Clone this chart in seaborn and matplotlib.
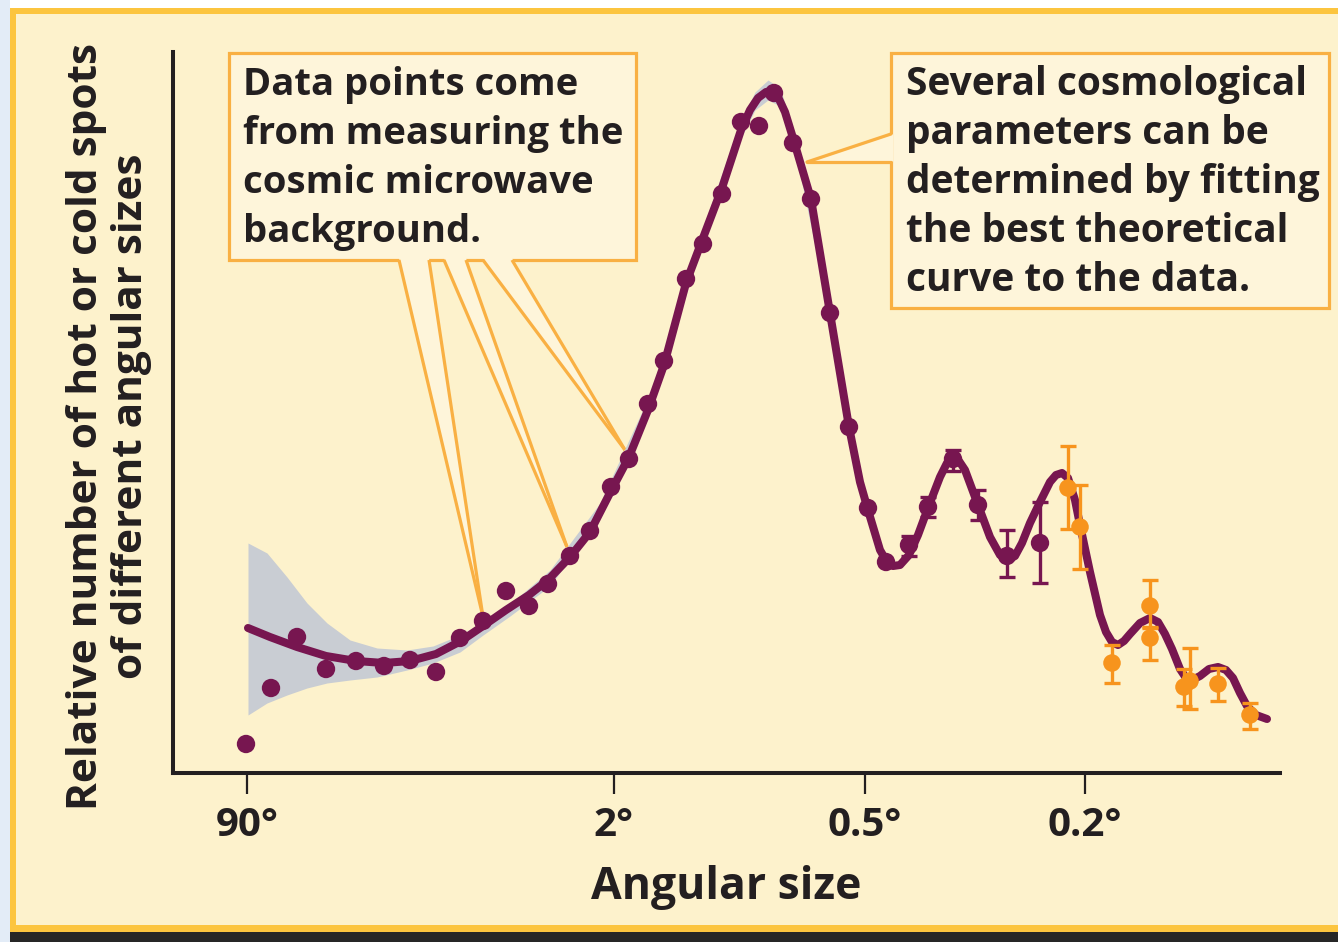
import numpy as np
import pandas as pd
import matplotlib
matplotlib.use("Agg")
import matplotlib.pyplot as plt
import seaborn as sns
from matplotlib.patches import Rectangle, Polygon

# ---------------- data (positions along the angular-size axis, relative heights) -------------
tick_pos = [247, 614, 865, 1085]
tick_labels = ["90°", "2°", "0.5°", "0.2°"]

# measured points without visible error bars
pts_x = [246, 271, 297, 326, 356, 384, 410, 436, 460, 483, 506, 529, 548, 570, 590, 611,
         629, 648, 664, 686, 703, 722, 741, 759, 774, 793, 811, 830, 849, 868, 886]
pts_y = [29, 85, 136, 104, 112, 107, 113, 101, 135, 152, 182, 167, 189, 217, 242, 286,
         314, 369, 412, 494, 529, 579, 651, 647, 680, 630, 574, 460, 346, 265, 211]

# measured points (purple) with error bars
perr_x = [909, 928, 953, 978, 1007, 1040]
perr_y = [228, 266, 314, 268, 217, 230]
perr_lo = [217, 256, 302, 253, 196, 190]
perr_hi = [237, 276, 323, 283, 243, 271]

# measured points (orange) with error bars
oerr_x = [1068, 1080, 1112, 1150, 1150, 1184, 1190, 1218, 1250]
oerr_y = [285, 246, 110, 167, 135, 86, 92, 89, 58]
oerr_lo = [244, 204, 90, 146, 113, 67, 64, 72, 44]
oerr_hi = [327, 288, 128, 193, 145, 104, 125, 105, 70]

# best-fit theoretical curve
curve_x = [248, 270, 297, 326, 356, 384, 410, 436, 461, 483, 506, 529, 548, 570, 590, 611,
           629, 648, 664, 686, 703, 722, 741, 750, 758, 766, 772, 778, 785, 793, 811, 830,
           849, 860, 868, 874, 880, 887, 893, 900, 909, 918, 928, 940, 947, 953, 959, 965,
           978, 990, 1000, 1008, 1015, 1022, 1030, 1040, 1050, 1056, 1062, 1068, 1075,
           1080, 1090, 1100, 1106, 1112, 1118, 1124, 1130, 1140, 1150, 1158, 1165, 1172,
           1180, 1186, 1192, 1200, 1209, 1218, 1226, 1233, 1240, 1247, 1256, 1267]
curve_y = [145, 136, 126, 117, 112, 110, 112, 119, 132, 147, 163, 178, 193, 216, 241, 282,
           316, 363, 408, 490, 535, 585, 643, 663, 675, 681, 681, 676, 661, 635, 574, 460,
           346, 291, 263, 243, 223, 211, 207, 208, 218, 238, 265, 296, 310, 315, 312, 303,
           268, 236, 218, 213, 217, 230, 250, 271, 291, 298, 300, 295, 273,
           248, 201, 158, 141, 131, 128, 132, 139, 150, 155, 151, 139, 124,
           104, 95, 93, 97, 104, 106, 103, 95, 80, 67, 58, 54]

# uncertainty band of the fit
band_x = [248, 267, 287, 307, 327, 350, 377, 407, 433, 460, 483, 510, 550, 600, 650, 700,
          740, 755, 768, 780, 795, 830, 860]
band_hi = [230, 220, 196, 170, 150, 133, 125, 123, 127, 138, 151, 169, 203, 270, 379, 537,
           651, 681, 693, 685, 639, 467, 297]
band_lo = [58, 70, 78, 85, 90, 93, 96, 103, 110, 121, 138, 157, 187, 255, 363, 523,
           633, 663, 673, 667, 623, 455, 285]

left_note = ["Data points come", "from measuring the", "cosmic microwave", "background."]
right_note = ["Several cosmological", "parameters can be", "determined by fitting",
              "the best theoretical", "curve to the data."]
ylabel_lines = ["Relative number of hot or cold spots", "of different angular sizes"]
xlabel = "Angular size"

# ---------------- style ----------------
PURPLE = "#771650"
ORANGE = "#f7941d"
LEAD = "#f9b043"
BAND = "#c9cdd3"
PANEL = "#fdf2cc"
BOXFACE = "#fef5da"
INK = "#231f20"

sns.set_theme(style="white")
plt.rcParams['font.family'] = ['Open Sans', 'DejaVu Sans']
plt.rcParams['font.weight'] = 'bold'

W, H = 1338, 942
fig = plt.figure(figsize=(W / 100, H / 100), dpi=100, facecolor="white")

# background / frame layer in pixel coordinates
bg = fig.add_axes([0, 0, 1, 1], zorder=0)
bg.set_xlim(0, W)
bg.set_ylim(H, 0)
bg.axis("off")
bg.add_patch(Rectangle((0, 0), 10, H, color="#e3ecf7", lw=0))
bg.add_patch(Rectangle((10, 8), W - 10, 924, color="#fcc53f", lw=0))
bg.add_patch(Rectangle((16, 14), W - 16, 911, color=PANEL, lw=0))
bg.add_patch(Rectangle((10, 932), W - 10, 10, color="#262626", lw=0))

# annotation boxes
bg.add_patch(Rectangle((229, 53), 407, 207, facecolor=BOXFACE, edgecolor=LEAD, lw=2.3))
bg.add_patch(Rectangle((891, 53), 438, 255, facecolor=BOXFACE, edgecolor=LEAD, lw=2.3))

left_leads = [((399, 429), (483, 617)), ((444, 466), (567, 547)), ((483, 512), (625, 450))]
for (xa, xb), tip in left_leads:
    bg.add_patch(Polygon([(xa, 258), (xb, 258), tip], closed=True, facecolor=BOXFACE, lw=0))
    bg.plot([xa, tip[0]], [260, tip[1]], color=LEAD, lw=2.3, solid_capstyle="butt")
    bg.plot([xb, tip[0]], [260, tip[1]], color=LEAD, lw=2.3, solid_capstyle="butt")

bg.add_patch(Polygon([(893, 134), (893, 162), (807, 162)], closed=True, facecolor=BOXFACE, lw=0))
bg.plot([891, 807], [134, 162], color=LEAD, lw=2.3)
bg.plot([891, 807], [162, 162], color=LEAD, lw=2.3)

for i, line in enumerate(left_note):
    bg.text(243, 95 + 49 * i, line, fontsize=27.5, fontweight="bold", color=INK, va="baseline", ha="left")
for i, line in enumerate(right_note):
    bg.text(906, 95 + 49 * i, line, fontsize=28, fontweight="bold", color=INK, va="baseline", ha="left")

bg.text(87, 426, ylabel_lines[0], rotation=90, fontsize=30.5, fontweight="bold", color=INK,
        ha="center", va="center")
bg.text(132, 416, ylabel_lines[1], rotation=90, fontsize=30.5, fontweight="bold", color=INK,
        ha="center", va="center")

# ---------------- main chart ----------------
L, R, T, B = 173, 1280, 52, 773
ax = fig.add_axes([L / W, (H - B) / H, (R - L) / W, (B - T) / H], zorder=1)
ax.patch.set_alpha(0)
ax.set_xlim(L, R)
ax.set_ylim(0, B - T)

ax.fill_between(band_x, band_lo, band_hi, color=BAND, lw=0, zorder=1)

curve = pd.DataFrame({"x": curve_x, "y": curve_y})
sns.lineplot(data=curve, x="x", y="y", ax=ax, color=PURPLE, lw=5.8, sort=False,
             estimator=None, zorder=2)
ax.lines[-1].set_solid_joinstyle("round")
ax.lines[-1].set_solid_capstyle("round")

ax.errorbar(perr_x, perr_y,
            yerr=[np.array(perr_y) - np.array(perr_lo), np.array(perr_hi) - np.array(perr_y)],
            fmt="none", ecolor=PURPLE, elinewidth=2.4, capsize=5.5, capthick=2.4, zorder=3)
ax.errorbar(oerr_x, oerr_y,
            yerr=[np.array(oerr_y) - np.array(oerr_lo), np.array(oerr_hi) - np.array(oerr_y)],
            fmt="none", ecolor=ORANGE, elinewidth=2.4, capsize=5.5, capthick=2.4, zorder=3)

purple_pts = pd.DataFrame({"x": pts_x + perr_x, "y": pts_y + perr_y})
sns.scatterplot(data=purple_pts, x="x", y="y", ax=ax, color=PURPLE, s=175, edgecolor="none",
                zorder=4, clip_on=False)
orange_pts = pd.DataFrame({"x": oerr_x, "y": oerr_y})
sns.scatterplot(data=orange_pts, x="x", y="y", ax=ax, color=ORANGE, s=160, edgecolor="none",
                zorder=4, clip_on=False)

for side in ["top", "right"]:
    ax.spines[side].set_visible(False)
for side in ["left", "bottom"]:
    ax.spines[side].set_color(INK)
    ax.spines[side].set_linewidth(2.9)
ax.set_yticks([])
ax.set_xticks(tick_pos)
ax.set_xticklabels(tick_labels, fontsize=29, fontweight="bold", color=INK)
ax.tick_params(axis="x", direction="out", length=15, width=1.6, color=INK, pad=9, bottom=True)
ax.set_ylabel("")
ax.set_xlabel(xlabel, fontsize=32, fontweight="bold", color=INK, labelpad=14)

fig.savefig("out.png", dpi=100, facecolor=fig.get_facecolor())
